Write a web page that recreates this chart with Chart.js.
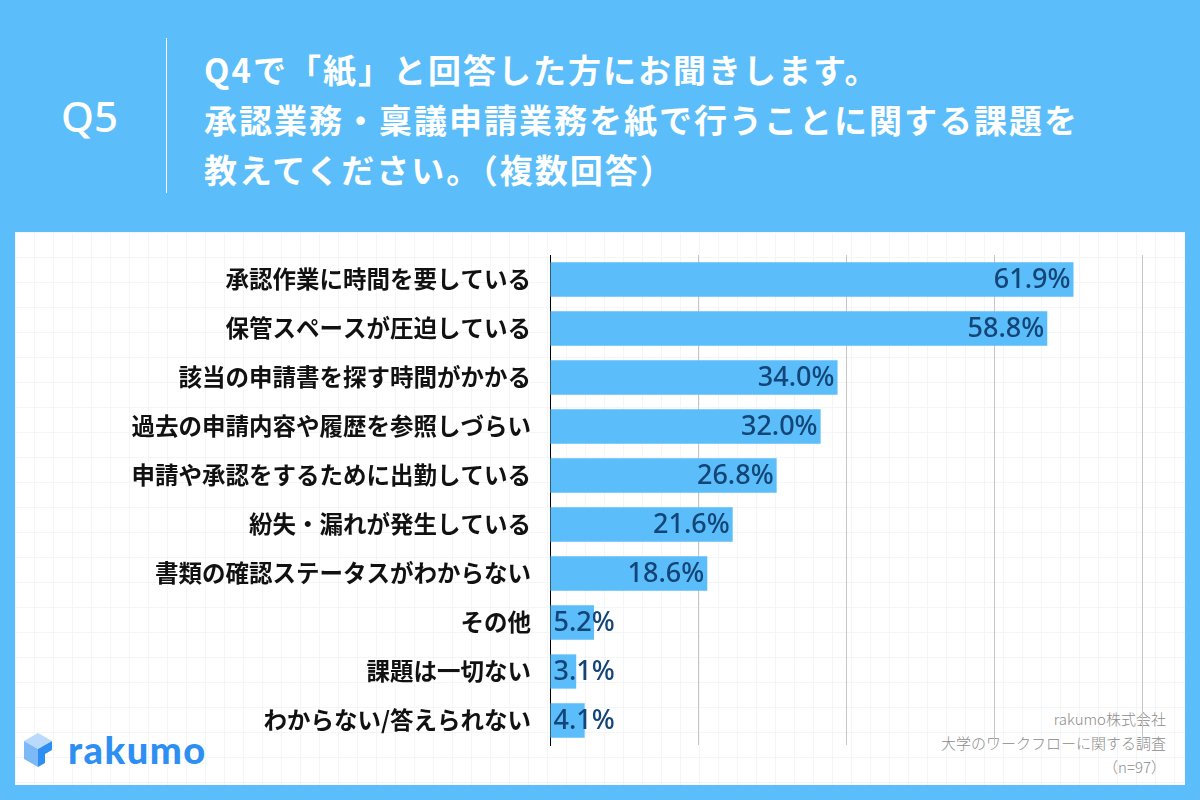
<!DOCTYPE html>
<html lang="ja">
<head>
<meta charset="utf-8">
<script src="https://cdn.jsdelivr.net/npm/chart.js@4.4.1/dist/chart.umd.min.js"></script>
<style>
  html, body { margin: 0; padding: 0; }
  body {
    width: 1200px; height: 800px; position: relative; overflow: hidden;
    background: #5bbdf9;
    font-family: "Noto Sans CJK JP", "Noto Sans", sans-serif;
  }
  #panel {
    position: absolute; left: 15px; top: 232px; width: 1170px; height: 553px;
    background-color: #fff;
    background-image:
      linear-gradient(to right, #f4f5f6 1px, transparent 1px),
      linear-gradient(to bottom, #f4f5f6 1px, transparent 1px);
    background-size: 19px 25px;
  }
  #q { position: absolute; left: 61px; top: 91px; color: #fff; font-family: "Noto Sans", sans-serif;
       font-size: 42px; font-weight: 500; line-height: 50px; }
  #sep { position: absolute; left: 166px; top: 38px; width: 1px; height: 155px; background: #fff; }
  #title { position: absolute; left: 204px; top: 44px; color: #fff; font-size: 33px; font-weight: bold;
           line-height: 50px; letter-spacing: 2px; }
  #logo { position: absolute; left: 24px; top: 733px; }
  #logotxt { position: absolute; left: 68px; top: 727px; color: #2e8ff2; font-family: Lato, sans-serif;
             font-size: 38px; font-weight: 900; letter-spacing: 1.5px; line-height: 44px; }
  #credit { position: absolute; right: 34px; top: 707px; color: #8c8c8c; font-size: 15px; font-weight: 300;
            line-height: 24px; text-align: right; }
  #chart { position: absolute; left: 0; top: 0; }
</style>
</head>
<body>
<div id="panel"></div>
<div id="q">Q5</div>
<div id="sep"></div>
<div id="title">Q4で「紙」と回答した方にお聞きします。<br>承認業務・稟議申請業務を紙で行うことに関する課題を<br>教えてください。（複数回答）</div>
<svg id="logo" width="32" height="36" viewBox="0 0 32 36">
  <polygon points="14,0 28,8 14,16 0,8" fill="#b9dafc"/>
  <polygon points="0,8 14,16 14,34 0,26" fill="#7db9f7"/>
  <polygon points="14,16 28,8 28,17 21,21 21,30 14,34" fill="#2e8ff2"/>
</svg>
<div id="logotxt">rakumo</div>
<div id="credit">rakumo株式会社<br>大学のワークフローに関する調査<br>（n=97）</div>
<canvas id="chart" width="1200" height="800"></canvas>
<script>
const categories = [
  "承認作業に時間を要している",
  "保管スペースが圧迫している",
  "該当の申請書を探す時間がかかる",
  "過去の申請内容や履歴を参照しづらい",
  "申請や承認をするために出勤している",
  "紛失・漏れが発生している",
  "書類の確認ステータスがわからない",
  "その他",
  "課題は一切ない",
  "わからない/答えられない"
];
const percents = [61.9, 58.8, 34.0, 32.0, 26.8, 21.6, 18.6, 5.2, 3.1, 4.1];
const axisMax = 70;
const gridStep = 17.5;

// étiquettes de valeur : à la fin de la barre si elle est assez longue, sinon au départ
const valueLabels = {
  id: "valueLabels",
  afterDatasetsDraw(chart) {
    const ctx = chart.ctx;
    const meta = chart.getDatasetMeta(0);
    ctx.save();
    ctx.font = "500 27px 'Noto Sans', sans-serif";
    ctx.fillStyle = "#134577";
    ctx.textBaseline = "middle";
    meta.data.forEach((bar, i) => {
      const txt = percents[i].toFixed(1) + "%";
      const w = ctx.measureText(txt).width;
      if (bar.x - bar.base > w + 6) {
        ctx.textAlign = "right";
        ctx.fillText(txt, bar.x - 3, bar.y + 1);
      } else {
        ctx.textAlign = "left";
        ctx.fillText(txt, bar.base + 3, bar.y + 1);
      }
    });
    ctx.restore();
  }
};

new Chart(document.getElementById("chart").getContext("2d"), {
  type: "bar",
  data: {
    labels: categories,
    datasets: [{
      data: percents,
      backgroundColor: "#5bbdf9",
      borderWidth: 0,
      categoryPercentage: 1,
      barPercentage: 0.7
    }]
  },
  options: {
    indexAxis: "y",
    responsive: false,
    animation: false,
    layout: { padding: { left: 0, right: 58, top: 255, bottom: 55 } },
    plugins: { legend: { display: false }, tooltip: { enabled: false } },
    scales: {
      x: {
        min: 0,
        max: axisMax,
        ticks: { display: false, stepSize: gridStep },
        grid: { color: "#c6c6c6", lineWidth: 1, drawTicks: false },
        border: { display: false }
      },
      y: {
        afterFit: scale => { scale.width = 550; },
        ticks: {
          color: "#111",
          padding: 19,
          font: { family: "'Noto Sans CJK JP'", size: 23.5, weight: "bold" }
        },
        grid: { display: false, drawTicks: false },
        border: { display: true, color: "#000", width: 1 }
      }
    }
  },
  plugins: [valueLabels]
});
</script>
</body>
</html>
